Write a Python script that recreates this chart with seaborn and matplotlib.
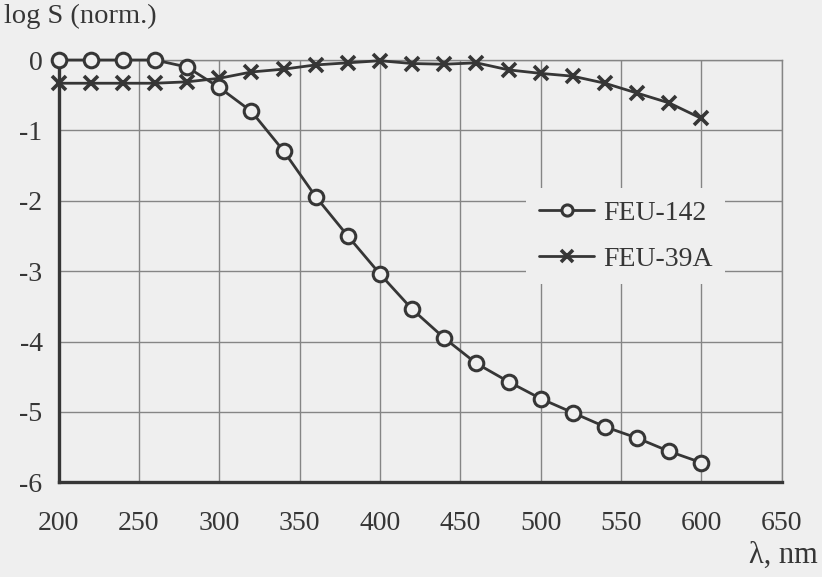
import matplotlib
matplotlib.use("Agg")
import matplotlib.pyplot as plt
import seaborn as sns
import pandas as pd

wavelength = [200, 220, 240, 260, 280, 300, 320, 340, 360, 380, 400,
              420, 440, 460, 480, 500, 520, 540, 560, 580, 600]
feu142 = [0.0, 0.0, 0.0, 0.0, -0.10, -0.39, -0.73, -1.29, -1.94, -2.50, -3.04,
          -3.54, -3.95, -4.31, -4.57, -4.81, -5.01, -5.21, -5.37, -5.56, -5.72]
feu39a = [-0.33, -0.33, -0.33, -0.33, -0.31, -0.26, -0.17, -0.13, -0.07, -0.04, -0.01,
          -0.05, -0.06, -0.04, -0.14, -0.19, -0.23, -0.33, -0.47, -0.61, -0.83]
x_ticks = [200, 250, 300, 350, 400, 450, 500, 550, 600, 650]
y_ticks = [0, -1, -2, -3, -4, -5, -6]
y_tick_labels = ["0", "-1", "-2", "-3", "-4", "-5", "-6"]
series_names = ["FEU-142", "FEU-39A"]

sns.set_theme(style="white")
plt.rcParams["font.family"] = ["Liberation Serif", "DejaVu Serif"]
plt.rcParams["axes.unicode_minus"] = False

bg = "#efefef"
ink = "#363636"
gridc = "#858585"

fig = plt.figure(figsize=(8.22, 5.77), dpi=100, facecolor=bg)
ax = fig.add_axes([0.0712, 0.164, 0.8798, 0.732])
ax.set_facecolor(bg)

df1 = pd.DataFrame({"x": wavelength, "y": feu142})
df2 = pd.DataFrame({"x": wavelength, "y": feu39a})

sns.lineplot(data=df2, x="x", y="y", ax=ax, color=ink, linewidth=2.0,
             marker="x", markersize=10.5, markeredgewidth=2.6,
             markeredgecolor=ink, label=series_names[1], clip_on=False, zorder=3)
sns.lineplot(data=df1, x="x", y="y", ax=ax, color=ink, linewidth=2.0,
             marker="o", markersize=10.5, markerfacecolor=bg, markeredgewidth=2.2,
             markeredgecolor=ink, label=series_names[0], clip_on=False, zorder=4)

ax.set_xlim(200, 650)
ax.set_ylim(-6, 0)
ax.set_xticks(x_ticks)
ax.set_yticks(y_ticks)
ax.set_yticklabels(y_tick_labels)
ax.set_xlabel("")
ax.set_ylabel("")

ax.grid(True, color=gridc, linewidth=1.0)
for s in ["top", "right"]:
    ax.spines[s].set_color(gridc)
    ax.spines[s].set_linewidth(1.0)
for s in ["left", "bottom"]:
    ax.spines[s].set_color(ink)
    ax.spines[s].set_linewidth(2.4)

ax.tick_params(axis="both", direction="out", length=6.5, width=2.0,
               color=ink, labelcolor=ink, labelsize=20)
ax.tick_params(axis="x", pad=14)
ax.tick_params(axis="y", pad=5)

handles, labels = ax.get_legend_handles_labels()
order = [labels.index(n) for n in series_names]
leg = ax.legend([handles[i] for i in order], [labels[i] for i in order],
                loc="center", bbox_to_anchor=(0.784, 0.583), frameon=True,
                facecolor=bg, edgecolor="none", framealpha=1.0,
                fontsize=20, handlelength=2.0, handletextpad=0.3,
                labelspacing=0.72, borderpad=0.45)
for t in leg.get_texts():
    t.set_color(ink)
for h in leg.legend_handles:
    h.set_markersize(8)

fig.text(4 / 822, 1 - 16 / 577, "log S (norm.)", fontsize=20.5, color=ink,
         ha="left", va="center")
fig.text(818 / 822, 1 - 555 / 577, "λ, nm", fontsize=22, color=ink,
         ha="right", va="center")

fig.savefig("out.png", dpi=100, facecolor=bg)
